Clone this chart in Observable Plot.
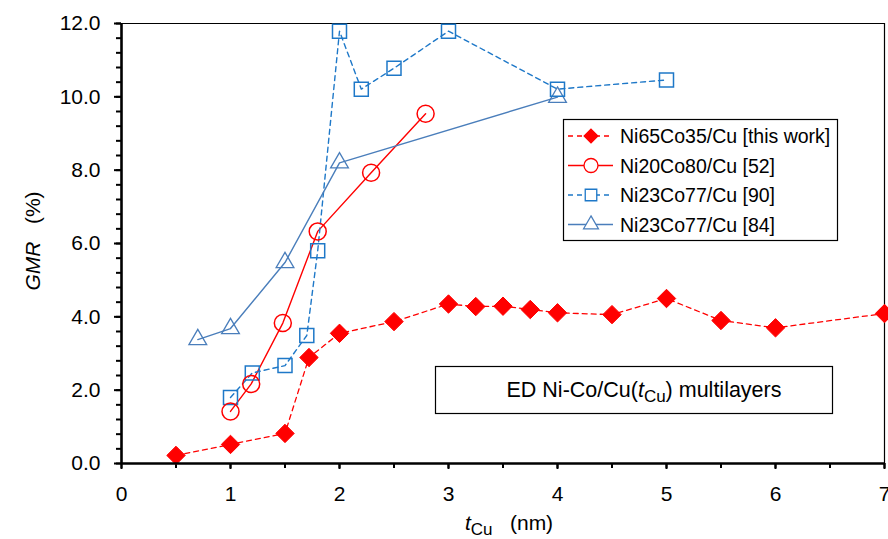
<!DOCTYPE html>
<html>
<head>
<meta charset="utf-8">
<script src="https://cdn.jsdelivr.net/npm/d3@7"></script>
<script src="https://cdn.jsdelivr.net/npm/@observablehq/plot@0.6"></script>
<style>
  html, body { margin: 0; padding: 0; background: #fff; }
  #chart { width: 888px; height: 539px; }
  svg { font-family: "Liberation Sans", Arial, sans-serif; }
</style>
</head>
<body>
<div id="chart"></div>
<script>
// ---- data ----
const tThis = [0.5, 1.0, 1.5, 1.72, 2.0, 2.5, 3.0, 3.25, 3.5, 3.75, 4.0, 4.5, 5.0, 5.5, 6.0, 7.0];
const gThis = [0.22, 0.52, 0.82, 2.89, 3.55, 3.87, 4.35, 4.28, 4.29, 4.2, 4.11, 4.06, 4.5, 3.9, 3.7, 4.09];

const t52 = [1.0, 1.19, 1.48, 1.8, 2.29, 2.79];
const g52 = [1.42, 2.17, 3.83, 6.33, 7.93, 9.54];

const t90 = [1.0, 1.2, 1.5, 1.7, 1.8, 2.0, 2.2, 2.5, 3.0, 4.0, 5.0];
const g90 = [1.8, 2.47, 2.67, 3.49, 5.8, 11.79, 10.21, 10.78, 11.79, 10.21, 10.46];

const t84 = [0.7, 1.0, 1.5, 2.0, 4.0];
const g84 = [3.38, 3.68, 5.48, 8.2, 9.99];

const seriesNames = ["Ni65Co35/Cu [this work]", "Ni20Co80/Cu [52]", "Ni23Co77/Cu [90]", "Ni23Co77/Cu [84]"];
const yMajor = [0, 2, 4, 6, 8, 10, 12];
const yMinor = d3.range(0, 12.001, 0.4);
const xMajor = [0, 1, 2, 3, 4, 5, 6, 7];
const xMinor = d3.range(0, 7.001, 0.5);

const RED = "#FF0000", BLUE_SQ = "#1E78C8", BLUE_TRI = "#4A7EBB";

const rows = (ts, gs) => ts.map((t, i) => ({t, g: gs[i]}));
const dThis = rows(tThis, gThis);
const d52 = rows(t52, g52);
const d90 = rows(t90, g90);
const d84 = rows(t84, g84);

const W = 888, H = 539, ML = 121, MR = 4, MT = 23, MB = 76;

const plot = Plot.plot({
  width: W, height: H,
  marginLeft: ML, marginRight: MR, marginTop: MT, marginBottom: MB,
  style: {fontFamily: '"Liberation Sans", Arial, sans-serif', background: "#fff", overflow: "visible"},
  x: {domain: [0, 7], label: null},
  y: {domain: [0, 12], label: null},
  marks: [
    Plot.ruleY([12], {stroke: "#000", strokeWidth: 1.2}),
    Plot.ruleX([7], {stroke: "#000", strokeWidth: 1.2}),
    Plot.axisY({ticks: yMinor, tickSize: 5, text: null, strokeWidth: 2, label: null}),
    Plot.axisX({ticks: xMinor, tickSize: 5, text: null, strokeWidth: 2, label: null}),
    Plot.axisY({ticks: yMajor, tickSize: 7, tickPadding: 14, strokeWidth: 2, fontSize: 21,
      tickFormat: d => d.toFixed(1), fill: "#000", label: null}),
    Plot.axisX({ticks: xMajor, tickSize: 6, tickPadding: 17, strokeWidth: 2, fontSize: 21,
      tickFormat: d => String(d), fill: "#000", label: null}),
    Plot.line(dThis, {x: "t", y: "g", stroke: RED, strokeWidth: 1.3, strokeDasharray: "5,4"}),
    Plot.line(d52, {x: "t", y: "g", stroke: RED, strokeWidth: 1.4}),
    Plot.line(d90, {x: "t", y: "g", stroke: BLUE_SQ, strokeWidth: 1.4, strokeDasharray: "5,4"}),
    Plot.line(d84, {x: "t", y: "g", stroke: BLUE_TRI, strokeWidth: 1.4}),
    Plot.dot(d84, {x: "t", y: "g", symbol: "triangle", r: 6.6, fill: "none", stroke: BLUE_TRI, strokeWidth: 1.3}),
    Plot.dot(d90, {x: "t", y: "g", symbol: "square", r: 7.9, fill: "none", stroke: BLUE_SQ, strokeWidth: 1.5}),
    Plot.dot(d52, {x: "t", y: "g", symbol: "circle", r: 8.5, fill: "none", stroke: RED, strokeWidth: 1.5}),
    Plot.dot(dThis, {x: "t", y: "g", symbol: "diamond2", r: 8.3, fill: RED, stroke: RED, strokeWidth: 1}),
    Plot.ruleX([0], {stroke: "#000", strokeWidth: 2.6}),
    Plot.ruleY([0], {stroke: "#000", strokeWidth: 2.6})
  ]
});

document.getElementById("chart").appendChild(plot);

const svg = d3.select(plot);
const FONT = '"Liberation Sans", Arial, sans-serif';

svg.selectAll('[aria-label*="tick label"]').each(function () {
  d3.select(this).attr("font-size", 21).style("font-size", "21px");
  d3.select(this).selectAll("text").style("font-size", "21px");
});

// legend box
const lg = svg.append("g").attr("class", "legend").attr("text-anchor", "start");
lg.append("rect").attr("x", 563.5).attr("y", 119.5).attr("width", 274).attr("height", 121)
  .attr("fill", "#fff").attr("stroke", "#000").attr("stroke-width", 1.2);
const legendStyles = [
  {stroke: RED, dash: "5,4", sym: d3.symbolDiamond2, size: Math.PI * 8.3 * 8.3 * 0.55, fill: RED},
  {stroke: RED, dash: null, sym: d3.symbolCircle, size: Math.PI * 7 * 7, fill: "none"},
  {stroke: BLUE_SQ, dash: "5,4", sym: d3.symbolSquare, size: Math.PI * 6.5 * 6.5, fill: "none"},
  {stroke: BLUE_TRI, dash: null, sym: d3.symbolTriangle, size: Math.PI * 5.5 * 5.5, fill: "none"}
];
seriesNames.forEach((name, i) => {
  const cy = 136 + i * 29.5;
  const s = legendStyles[i];
  lg.append("line").attr("x1", 568).attr("x2", 613).attr("y1", cy).attr("y2", cy)
    .attr("stroke", s.stroke).attr("stroke-width", 1.3).attr("stroke-dasharray", s.dash);
  lg.append("path").attr("d", d3.symbol(s.sym, s.size)()).attr("transform", `translate(591,${cy})`)
    .attr("fill", s.fill === "none" ? "#fff" : s.fill).attr("stroke", s.stroke).attr("stroke-width", 1.3);
  lg.append("text").attr("x", 620).attr("y", cy).attr("dy", "0.36em").attr("text-anchor", "start")
    .attr("font-family", FONT).style("font-size", "19.5px").attr("fill", "#000").text(name);
});

// annotation box
const ab = svg.append("g");
ab.append("rect").attr("x", 435.5).attr("y", 366.5).attr("width", 397).attr("height", 47)
  .attr("fill", "#fff").attr("stroke", "#000").attr("stroke-width", 1.2);
const at = ab.append("text").attr("x", 644).attr("y", 397).attr("text-anchor", "middle")
  .attr("font-family", FONT).style("font-size", "21.5px").attr("fill", "#000");
at.append("tspan").text("ED Ni-Co/Cu(");
at.append("tspan").attr("font-style", "italic").text("t");
at.append("tspan").style("font-size", "17px").attr("dy", 5).text("Cu");
at.append("tspan").attr("dy", -5).text(") multilayers");

// y axis title
const yt = svg.append("text").attr("transform", "translate(40,241) rotate(-90)")
  .attr("text-anchor", "middle").attr("font-family", FONT).style("font-size", "21px").attr("fill", "#000");
yt.append("tspan").attr("font-style", "italic").text("GMR");
yt.append("tspan").text("\u00A0\u00A0\u00A0(%)");

// x axis title
const xt = svg.append("text").attr("x", 509).attr("y", 530).attr("text-anchor", "middle")
  .attr("font-family", FONT).style("font-size", "21px").attr("fill", "#000");
xt.append("tspan").attr("font-style", "italic").text("t");
xt.append("tspan").style("font-size", "17px").attr("dy", 5).text("Cu");
xt.append("tspan").attr("dy", -5).text("\u00A0\u00A0\u00A0(nm)");
</script>
</body>
</html>
